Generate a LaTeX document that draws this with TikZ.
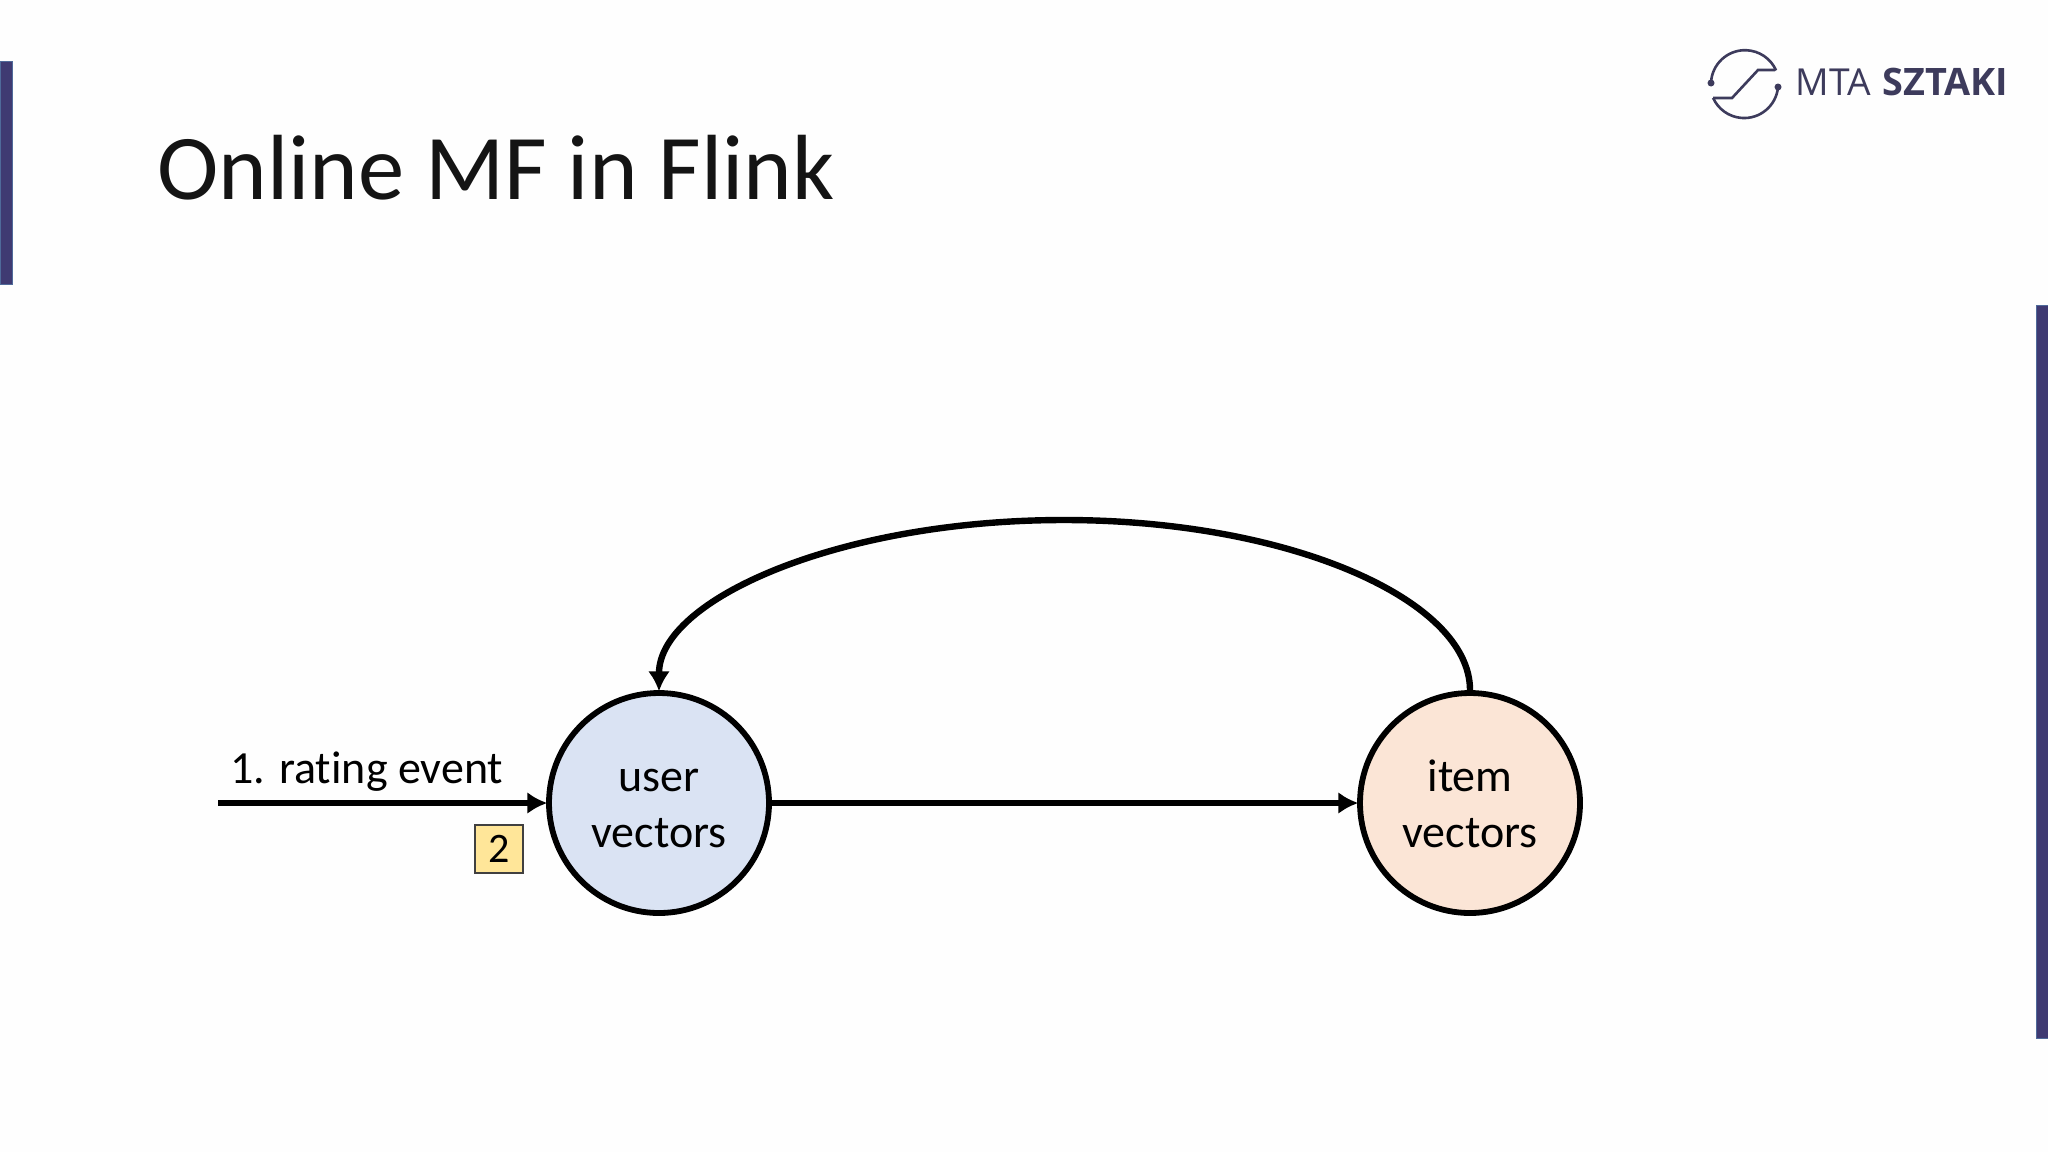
\documentclass[tikz,border=0pt]{standalone}
\usepackage{fontspec}
\setmainfont{Carlito}[Ligatures=NoCommon]
\newfontfamily\logofont{Open Sans}
\usetikzlibrary{arrows.meta}
\definecolor{barblue}{HTML}{3F3A72}
\definecolor{baredge}{HTML}{4F6A9A}
\definecolor{logoink}{HTML}{3D3B5C}
\definecolor{userfill}{HTML}{DAE3F3}
\definecolor{itemfill}{HTML}{FBE5D6}
\definecolor{badgefill}{HTML}{FFE699}
\tikzset{
  x=0.5pt,y=-0.5pt,
  vec/.style={circle,draw=black,line width=2.9pt,minimum size=110pt,inner sep=0pt,align=center,font=\fontsize{23}{28}\selectfont},
  flow/.style={line width=3.2pt,black,shorten >=-0.6pt,-{Latex[length=10pt,width=11pt]}},
  sidebar/.style={fill=barblue,draw=baredge,line width=0.5pt},
  logoline/.style={draw=logoink,line width=1.3pt},
  logodot/.style={circle,fill=logoink,inner sep=0pt,minimum size=3.5pt},
  label/.style={inner sep=0pt,font=\fontsize{23}{26}\selectfont}
}
\newcommand{\lowered}{\rule{0pt}{24.6pt}}
\begin{document}
\begin{tikzpicture}
\useasboundingbox (0,0) rectangle (2048,1152);
\fill[white!99.5!black] (0,0) rectangle (2048,1152);
\draw[sidebar] (0,61) rectangle (12,284);
\draw[sidebar] (2036,305) rectangle (2048,1038);
\node[anchor=base west,inner sep=0pt,font=\fontsize{46.3}{52}\selectfont,text=black!92] (title) at (157,199) {Online MF in Flink};
% logo
\coordinate (la) at (1711,83);
\coordinate (lb) at (1778,87);
\coordinate (lc) at (1775,70);
\coordinate (ld) at (1713,98);
\node[logodot] (dota) at (la) {};
\node[logodot] (dotb) at (lb) {};
\draw[logoline] (la) arc[start angle=178,end angle=24,radius=17pt];
\draw[logoline] (lb) arc[start angle=-5,end angle=-156,radius=17pt];
\draw[logoline] (1775,70) -- (1758,70) -- (1732,98) -- (1713,98);
\node[anchor=base west,inner sep=0pt,font=\logofont\fontsize{18.6}{20}\selectfont,text=logoink] (mta) at (1795,95) {MTA};
\node[anchor=base west,inner sep=0pt,font=\logofont\bfseries\fontsize{18.9}{20}\selectfont,text=logoink] (szt) at (1882,95) {SZTAKI};
% diagram
\node[vec,fill=userfill] (user) at (659,803) {\lowered user\\\strut vectors};
\node[vec,fill=itemfill] (item) at (1470,803) {\lowered item\\\strut vectors};
\coordinate (start) at (218,803);
\draw[flow] (start) -- (user.west);
\draw[flow] (user.east) -- (item.west);
\draw[flow] (item.north) .. controls (1470,600) and (1290,520) .. (1064,520) .. controls (838,520) and (659,600) .. (user.north);
\node[label,anchor=base west] (rate) at (230,783) {1. rating event};
\node[draw=black!75,line width=0.6pt,fill=badgefill,minimum size=24pt,inner sep=0pt,font=\fontsize{21}{24}\selectfont] (badge) at (499,849) {2};
\end{tikzpicture}
\end{document}
